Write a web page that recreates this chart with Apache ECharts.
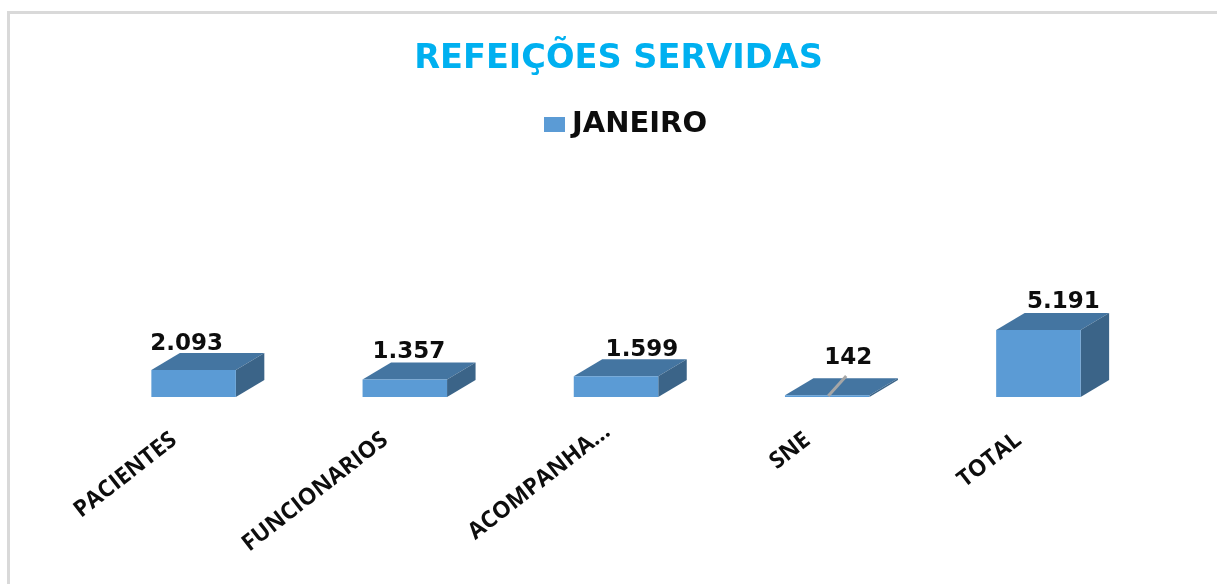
<!DOCTYPE html>
<html>
<head>
<meta charset="utf-8">
<title>Refeições servidas</title>
<script src="https://cdn.jsdelivr.net/npm/echarts@6/dist/echarts.min.js"></script>
<style>
	html, body { margin: 0; padding: 0; background: #fff; }
	#main { width: 1217px; height: 584px; }
</style>
</head>
<body>
<div id="main"></div>
<script type="text/javascript">
	var categories = ['PACIENTES', 'FUNCIONARIOS', 'ACOMPANHA...', 'SNE', 'TOTAL'];
	var janeiro = [2093, 1357, 1599, 142, 5191];

	// label offsets from the front top edge of each box, px
	var labelDx = [-7, 4, 26, 21, 25];
	var labelDy = [-26, -27, -26, -37, -28];

	var depthX = 28.5, depthY = -17;

	function fmt(v) {
		return String(v).replace(/\B(?=(\d{3})+$)/g, '.');
	}

	function renderBox(params, api) {
		var i = api.value(0);
		var base = api.coord([i, 0]);
		var top = api.coord([i, api.value(1)]);
		var w = api.size([1, 0])[0] * 0.4;
		var l = base[0] - w / 2, r = base[0] + w / 2;
		var children = [
			{ type: 'polygon', shape: { points: [[l, top[1]], [r, top[1]], [r + depthX, top[1] + depthY], [l + depthX, top[1] + depthY]] }, style: { fill: '#4475a1' } },
			{ type: 'polygon', shape: { points: [[r, top[1]], [r + depthX, top[1] + depthY], [r + depthX, base[1] + depthY], [r, base[1]]] }, style: { fill: '#3b6488' } },
			{ type: 'rect', shape: { x: l, y: top[1], width: w, height: base[1] - top[1] }, style: { fill: '#5b9bd5' } }
		];
		// leader line of the small SNE value
		if (categories[i] === 'SNE') {
			children.push({ type: 'line', shape: { x1: base[0] + 1, y1: base[1] - 1, x2: base[0] + 19, y2: base[1] - 21 }, style: { stroke: '#a6a6a6', lineWidth: 3 } });
		}
		children.push({
			type: 'text',
			style: {
				x: base[0] + labelDx[i],
				y: top[1] + labelDy[i],
				text: fmt(api.value(1)),
				align: 'center',
				verticalAlign: 'middle',
				font: 'bold 23px "DejaVu Sans"',
				fill: '#0d0d0d'
			}
		});
		return { type: 'group', children: children };
	}

	var myChart = echarts.init(document.getElementById('main'));
	var option = {
		animation: false,
		backgroundColor: '#fff',
		title: {
			text: 'REFEIÇÕES SERVIDAS',
			left: 613.5,
			top: 37,
			textAlign: 'center',
			textStyle: { color: '#00b0f0', fontFamily: 'DejaVu Sans', fontWeight: 'bold', fontSize: 33.6 }
		},
		legend: {
			data: ['JANEIRO'],
			left: 539,
			top: 105,
			icon: 'rect',
			itemWidth: 21,
			itemHeight: 15,
			textStyle: { color: '#0d0d0d', fontFamily: 'DejaVu Sans', fontWeight: 'bold', fontSize: 29, padding: [0, 0, 0, 2] }
		},
		grid: { left: 88, right: 73, top: 139, bottom: 187 },
		xAxis: {
			type: 'category',
			// the truncated label reaches further right than the others
			data: categories.map(function(c) {
				return c === 'ACOMPANHA...' ? { value: c, textStyle: { padding: [0, 11, 0, 0] } } : c;
			}),
			axisLine: { show: false },
			axisTick: { show: false },
			axisLabel: {
				interval: 0,
				rotate: 38,
				margin: 25,
				padding: [0, 25, 0, 0],
				color: '#0d0d0d',
				fontFamily: 'Open Sans',
				fontWeight: 'bold',
				fontSize: 23
			}
		},
		yAxis: { type: 'value', min: 0, max: 20000, show: false },
		series: [{
			name: 'JANEIRO',
			type: 'custom',
			renderItem: renderBox,
			itemStyle: { color: '#5b9bd5' },
			encode: { x: 0, y: 1 },
			data: janeiro.map(function(v, i) { return [i, v]; })
		}],
		graphic: [{
			type: 'rect',
			silent: true,
			shape: { x: 8.5, y: 12.5, width: 1240, height: 600 },
			style: { fill: 'none', stroke: '#d9d9d9', lineWidth: 3 }
		}]
	};
	myChart.setOption(option);
</script>
</body>
</html>
